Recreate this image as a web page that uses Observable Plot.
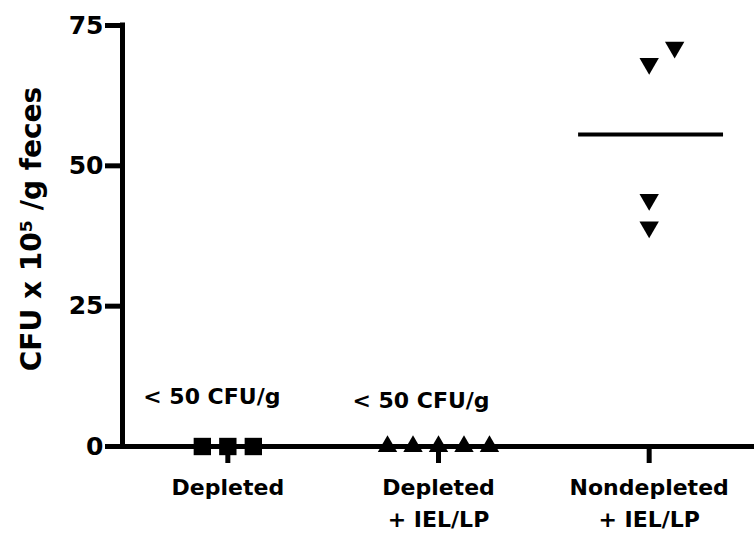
<!DOCTYPE html>
<html><head><meta charset="utf-8">
<script src="https://cdn.jsdelivr.net/npm/d3@7"></script>
<script src="https://cdn.jsdelivr.net/npm/@observablehq/plot@0.6"></script>
<style>body{margin:0;background:#fff}</style>
</head><body><div id="chart"></div>
<script>
// ---- data ----
const categories = ["Depleted", "Depleted\n+ IEL/LP", "Nondepleted\n+ IEL/LP"];
const depleted = [0, 0, 0];
const depletedIEL = [0, 0, 0, 0, 0];
const nondepletedIEL = [68.2, 71.1, 44.0, 39.1];
const belowLimit = ["< 50 CFU/g", "< 50 CFU/g"];
const yTicks = [0, 25, 50, 75];
const yLabel = "CFU x 10\u2075 /g feces";

// column-scatter layout: spread points that would overlap (0, +1, -1, +2, -2 ...)
function slots(values, minGap) {
  const placed = [];
  return values.map(v => {
    const near = placed.filter(p => Math.abs(p.v - v) < minGap).map(p => p.s);
    let s = 0;
    for (let k = 1; near.includes(s); k++) s = k % 2 ? (k + 1) / 2 : -k / 2;
    placed.push({v, s});
    return s;
  });
}
const step = 0.121;
function rows(values, g) {
  const s = slots(values, 3.5);
  return values.map((v, i) => ({g, value: v, slot: s[i]}));
}
const rows0 = rows(depleted, 0);
const rows1 = rows(depletedIEL, 1);
const rows2 = rows(nondepletedIEL, 2);
const meanRows = [{g: 2, value: d3.mean(nondepletedIEL)}];

const triangleDown = {
  draw(ctx, size) {
    const y = -Math.sqrt(size / (Math.sqrt(3) * 3));
    ctx.moveTo(0, -y * 2);
    ctx.lineTo(-Math.sqrt(3) * y, y);
    ctx.lineTo(Math.sqrt(3) * y, y);
    ctx.closePath();
  }
};

const px = d => d.g + d.slot * step;

const chart = Plot.plot({
  width: 754,
  height: 538,
  marginLeft: 122,
  marginRight: 0,
  marginTop: 25,
  marginBottom: 92,
  style: {fontFamily: "DejaVu Sans", fontWeight: "bold", color: "#000", background: "#fff"},
  x: {domain: [-0.5, 2.5], axis: null},
  y: {domain: [0, 75], axis: null},
  marks: [
    Plot.axisY({ticks: yTicks, tickSize: 17, strokeWidth: 5, tickPadding: 2, fontSize: 25, label: null}),
    Plot.axisX({ticks: [0, 1, 2], tickFormat: i => categories[i], tickSize: 17, strokeWidth: 5,
                tickPadding: 9, fontSize: 22, lineHeight: 1.45, label: null}),
    Plot.ruleY([0], {strokeWidth: 5}),
    Plot.ruleX([-0.5], {y1: 0, y2: 75, strokeWidth: 5, strokeLinecap: "square"}),
    Plot.text([yLabel], {text: d => d, frameAnchor: "left", textAnchor: "middle", rotate: -90, dx: -90, dy: -7, fontSize: 28}),
    Plot.text([{g: 0, t: belowLimit[0]}], {x: "g", y: () => 0, text: "t", dx: -16, dy: -43, lineAnchor: "bottom", fontSize: 22}),
    Plot.text([{g: 1, t: belowLimit[1]}], {x: "g", y: () => 0, text: "t", dx: -17.5, dy: -39, lineAnchor: "bottom", fontSize: 22}),
    Plot.dot(rows0, {x: px, y: "value", symbol: "square", r: 9.8, fill: "#000", stroke: "none"}),
    Plot.dot(rows1, {x: px, y: "value", symbol: "triangle", r: 7.2, fill: "#000", stroke: "none"}),
    Plot.dot(rows2, {x: px, y: "value", symbol: triangleDown, r: 7.2, fill: "#000", stroke: "none"}),
    Plot.ruleY(meanRows, {y: "value", x1: d => d.g - 0.335, x2: d => d.g + 0.353, strokeWidth: 4})
  ]
});
document.getElementById("chart").appendChild(chart);
</script>
</body></html>
